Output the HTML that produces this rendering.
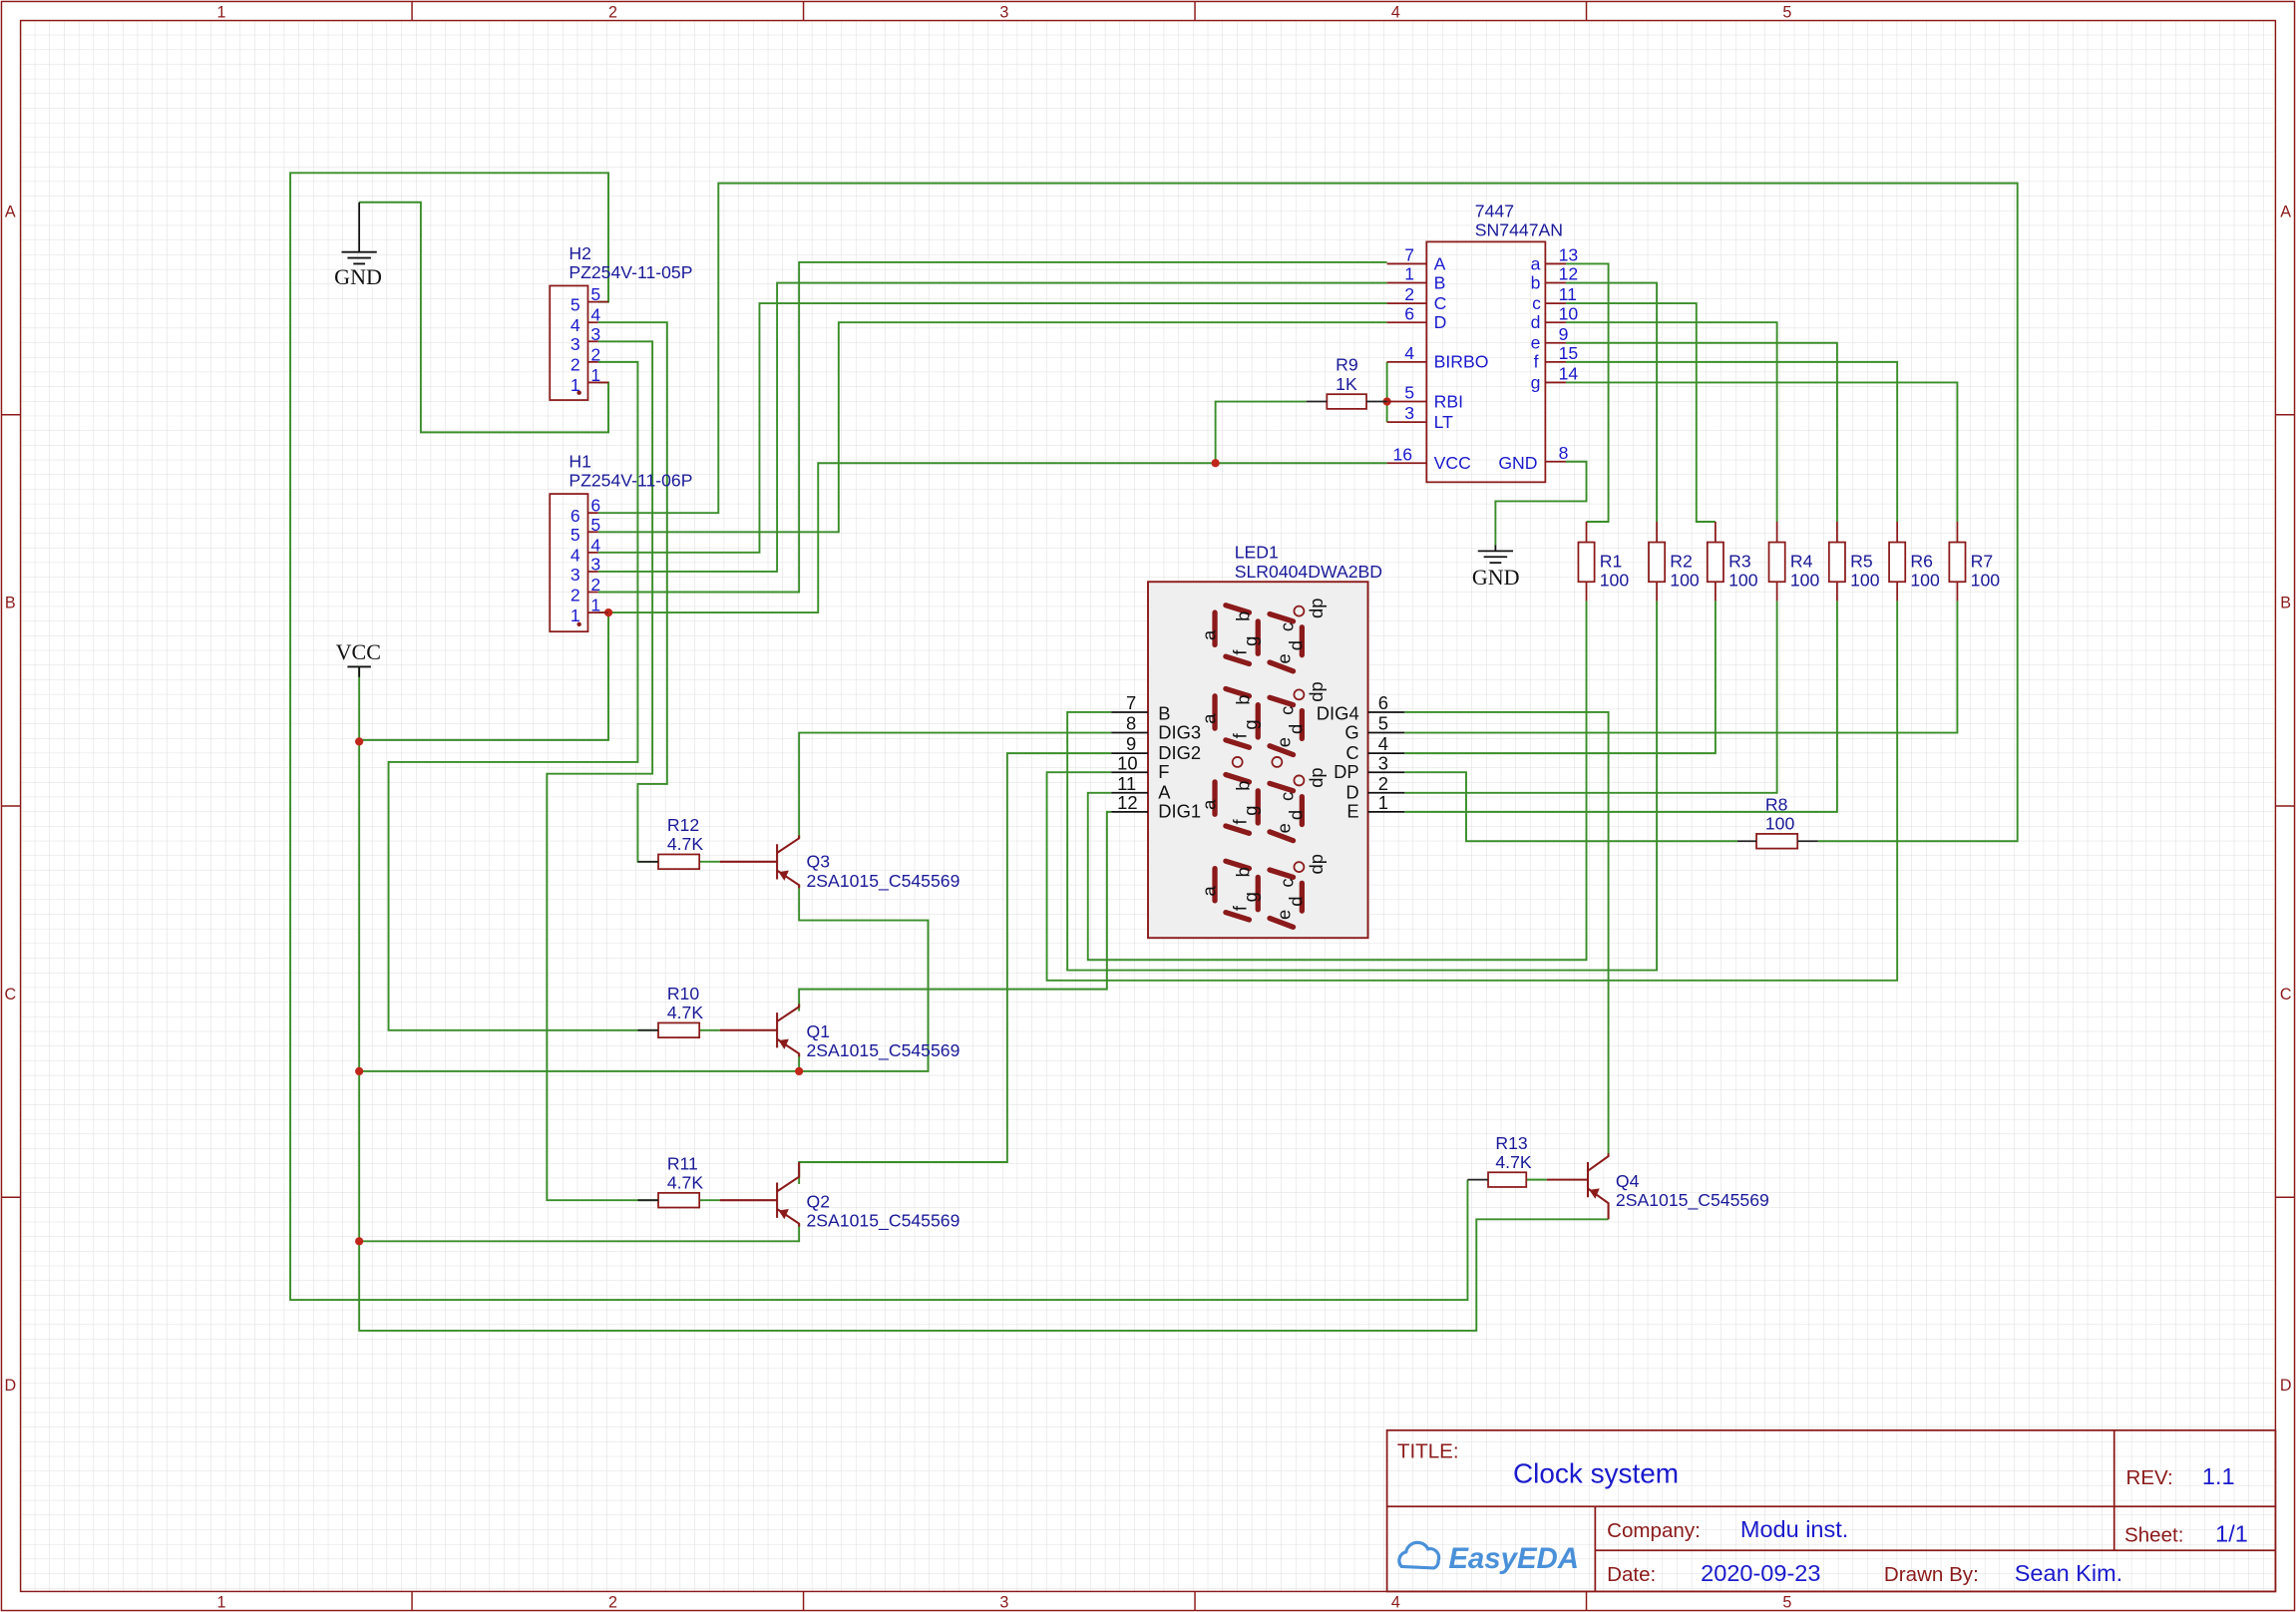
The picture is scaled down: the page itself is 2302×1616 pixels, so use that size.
<!DOCTYPE html>
<html><head><meta charset="utf-8"><style>
html,body{margin:0;padding:0;background:#fff}
svg{display:block}
text{font-family:"Liberation Sans",sans-serif}
</style></head><body>
<svg width="2302" height="1616" viewBox="0 0 1566 1100" preserveAspectRatio="none" xmlns="http://www.w3.org/2000/svg">
<defs>
<pattern id="g" width="10" height="10" patternUnits="userSpaceOnUse" x="4" y="4">
<path d="M10 0V10H0" fill="none" stroke="#dedede" stroke-width="0.7"/>
</pattern>
<g id="dig" fill="none" stroke="#8b1a1a" stroke-linecap="round">
<line x1="828.6" y1="418" x2="828.6" y2="440" stroke-width="3.6"/>
<line x1="836" y1="413" x2="852" y2="418" stroke-width="3.6"/>
<line x1="858" y1="424" x2="858" y2="446" stroke-width="3.6"/>
<line x1="836" y1="448" x2="852" y2="453" stroke-width="3.6"/>
<line x1="866" y1="419" x2="882" y2="424" stroke-width="3.6"/>
<line x1="888" y1="428" x2="888" y2="447" stroke-width="3.6"/>
<line x1="866" y1="452" x2="882" y2="458" stroke-width="3.6"/>
<circle cx="886" cy="417" r="3.4" stroke-width="1.2"/>
<g fill="#111" stroke="none" font-size="12.5">
<text transform="translate(829,437) rotate(-90)">a</text>
<text transform="translate(852,424) rotate(-90)">b</text>
<text transform="translate(850,447) rotate(-90)">f</text>
<text transform="translate(857,441) rotate(-90)">g</text>
<text transform="translate(882,431) rotate(-90)">c</text>
<text transform="translate(880,453) rotate(-90)">e</text>
<text transform="translate(888,444) rotate(-90)">d</text>
<text transform="translate(902,422) rotate(-90)">dp</text>
</g>
</g>
</defs>
<rect width="1566" height="1100" fill="#fff"/>
<rect x="14" y="14" width="1538" height="1072" fill="url(#g)"/>
<g stroke="#8b1a1a" fill="none" stroke-width="1">
<rect x="1" y="1" width="1564" height="1098"/>
<rect x="14" y="14" width="1538" height="1072"/>
<path d="M281 1V14M548 1V14M815 1V14M1082 1V14M281 1086V1099M548 1086V1099M815 1086V1099M1082 1086V1099M1 283H14M1 550H14M1 817H14M1552 283H1565M1552 550H1565M1552 817H1565"/>
</g>
<g fill="#8b1a1a" font-size="11" text-anchor="middle">
<text x="151" y="12">1</text><text x="418" y="12">2</text><text x="685" y="12">3</text><text x="952" y="12">4</text><text x="1219" y="12">5</text>
<text x="151" y="1097">1</text><text x="418" y="1097">2</text><text x="685" y="1097">3</text><text x="952" y="1097">4</text><text x="1219" y="1097">5</text>
<text x="7" y="148">A</text><text x="7" y="415">B</text><text x="7" y="682">C</text><text x="7" y="949">D</text>
<text x="1559" y="148">A</text><text x="1559" y="415">B</text><text x="1559" y="682">C</text><text x="1559" y="949">D</text>
</g>

<g stroke="#3a8e2a" stroke-width="1.3" fill="none">
<path d="M245 138H287V295H415V261H408"/>
<path d="M408 206H415V118H198V887H1001V805"/>
<path d="M408 220H455V535H435V588H449"/>
<path d="M408 233H445V528H373V819H449"/>
<path d="M408 247H435V520H265V703H449"/>
<path d="M408 350H490V125H1376V574H1240"/>
<path d="M408 363H572V220H946"/>
<path d="M408 377H518V207H946"/>
<path d="M408 390H530V193H946"/>
<path d="M408 404H545V179H946"/>
<path d="M408 418H558V316H946"/>
<path d="M415 418V505H245"/>
<path d="M245 455V908H1007V832H1097"/>
<path d="M829 316V274H891"/>
<path d="M946 247V288"/>
<path d="M1068 315H1082V342H1020V372"/>
<path d="M1068 180H1097V356H1082"/>
<path d="M1068 193H1130V356"/>
<path d="M1068 207H1157V356H1170"/>
<path d="M1068 220H1212V356"/>
<path d="M1068 234H1253V356"/>
<path d="M1068 247H1294V356"/>
<path d="M1068 261H1335V356"/>
<path d="M1082 410V655H742V541H758"/>
<path d="M1130 410V662H728V486H758"/>
<path d="M1170 410V514H958"/>
<path d="M1212 410V541H958"/>
<path d="M1253 410V554H958"/>
<path d="M1294 410V669H714V527H758"/>
<path d="M1335 410V500H958"/>
<path d="M758 500H545V572"/>
<path d="M758 514H687V793H545V808"/>
<path d="M758 554H755V675H545V690"/>
<path d="M958 486H1097V789"/>
<path d="M958 527H1000V574H1185"/>
<path d="M545 604V628H633V731H245"/>
<path d="M545 720V731"/>
<path d="M545 835V847H245"/>
<path d="M477 588H491M477 703H491M477 819H491M1041 805H1055"/>
</g>
<g fill="#c0261a">
<circle cx="415" cy="418" r="2.8"/><circle cx="245" cy="506" r="2.8"/><circle cx="245" cy="731" r="2.8"/>
<circle cx="545" cy="731" r="2.8"/><circle cx="245" cy="847" r="2.8"/><circle cx="829" cy="316" r="2.8"/>
<circle cx="946" cy="274" r="2.8"/>
</g>

<g stroke="#111" stroke-width="1.2" fill="none">
<path d="M245 138V172M233 172H257M237 176H253M241 180H249"/>
<path d="M237 455H253M245 455V462"/>
<path d="M1020 372V376M1008 376H1032M1012 380H1028M1016 384H1024"/>
</g>
<g font-size="15" fill="#111">
<text x="228" y="194" style="font-family:'Liberation Serif',serif">GND</text>
<text x="229" y="450" style="font-family:'Liberation Serif',serif">VCC</text>
<text x="1004" y="399" style="font-family:'Liberation Serif',serif">GND</text>
</g>

<g stroke="#8b1a1a" fill="none" stroke-width="1.2">
<rect x="375" y="195" width="26" height="78"/>
<rect x="375" y="337" width="26" height="94"/>
<path d="M401 206H415M401 220H408M401 233H408M401 247H408M401 261H415"/>
<path d="M401 350H408M401 363H408M401 377H408M401 390H408M401 404H408M401 418H415"/>
</g>
<circle cx="395" cy="268" r="1.5" fill="#8b1a1a"/><circle cx="395" cy="426" r="1.5" fill="#8b1a1a"/>
<g fill="#1a1acc" font-size="12">
<text x="389" y="212">5</text><text x="389" y="226">4</text><text x="389" y="239">3</text><text x="389" y="253">2</text><text x="389" y="267">1</text>
<text x="403" y="205">5</text><text x="403" y="219">4</text><text x="403" y="232">3</text><text x="403" y="246">2</text><text x="403" y="260">1</text>
<text x="389" y="356">6</text><text x="389" y="369">5</text><text x="389" y="383">4</text><text x="389" y="396">3</text><text x="389" y="410">2</text><text x="389" y="424">1</text>
<text x="403" y="349">6</text><text x="403" y="362">5</text><text x="403" y="376">4</text><text x="403" y="389">3</text><text x="403" y="403">2</text><text x="403" y="417">1</text>
</g>
<g fill="#1a1a99" font-size="12">
<text x="388" y="177">H2</text><text x="388" y="190">PZ254V-11-05P</text>
<text x="388" y="319">H1</text><text x="388" y="332">PZ254V-11-06P</text>
</g>

<g stroke="#8b1a1a" fill="none" stroke-width="1.2">
<rect x="973" y="165" width="81" height="164"/>
<path d="M946 180H973M946 193H973M946 207H973M946 220H973M946 247H973M946 274H973M946 288H973M946 316H973"/>
<path d="M1054 180H1068M1054 193H1068M1054 207H1068M1054 220H1068M1054 234H1068M1054 247H1068M1054 261H1068M1054 315H1068"/>
</g>
<g fill="#1a1acc" font-size="12">
<text x="958" y="178">7</text><text x="958" y="191">1</text><text x="958" y="205">2</text><text x="958" y="218">6</text>
<text x="958" y="245">4</text><text x="958" y="272">5</text><text x="958" y="286">3</text><text x="950" y="314">16</text>
<text x="978" y="184">A</text><text x="978" y="197">B</text><text x="978" y="211">C</text><text x="978" y="224">D</text>
<text x="978" y="251">BIRBO</text><text x="978" y="278">RBI</text><text x="978" y="292">LT</text><text x="978" y="320">VCC</text><text x="1022" y="320">GND</text>
<text x="1044" y="184">a</text><text x="1044" y="197">b</text><text x="1045" y="211">c</text><text x="1044" y="224">d</text><text x="1044" y="238">e</text><text x="1046" y="251">f</text><text x="1044" y="265">g</text>
<text x="1063" y="178">13</text><text x="1063" y="191">12</text><text x="1063" y="205">11</text><text x="1063" y="218">10</text><text x="1063" y="232">9</text><text x="1063" y="245">15</text><text x="1063" y="259">14</text><text x="1063" y="313">8</text>
</g>
<g fill="#1a1a99" font-size="12">
<text x="1006" y="148">7447</text><text x="1006" y="161">SN7447AN</text>
<text x="911" y="253">R9</text><text x="911" y="266">1K</text>
<text x="842" y="381">LED1</text><text x="842" y="394">SLR0404DWA2BD</text>
</g>
<rect x="905" y="269" width="27" height="10" stroke="#8b1a1a" fill="none" stroke-width="1.2"/>
<path d="M891 274H905M932 274H946" stroke="#222" stroke-width="1.2"/>

<g stroke="#8b1a1a" fill="none" stroke-width="1.2">
<path d="M1082 356V410M1130 356V410M1170 356V410M1212 356V410M1253 356V410M1294 356V410M1335 356V410"/>
</g>
<g stroke="#8b1a1a" fill="#fff" stroke-width="1.2">
<rect x="1076.5" y="370" width="11" height="27"/><rect x="1124.5" y="370" width="11" height="27"/>
<rect x="1164.5" y="370" width="11" height="27"/><rect x="1206.5" y="370" width="11" height="27"/>
<rect x="1247.5" y="370" width="11" height="27"/><rect x="1288.5" y="370" width="11" height="27"/>
<rect x="1329.5" y="370" width="11" height="27"/>
</g>
<g fill="#1a1a99" font-size="12">
<text x="1091" y="387">R1</text><text x="1091" y="400">100</text>
<text x="1139" y="387">R2</text><text x="1139" y="400">100</text>
<text x="1179" y="387">R3</text><text x="1179" y="400">100</text>
<text x="1221" y="387">R4</text><text x="1221" y="400">100</text>
<text x="1262" y="387">R5</text><text x="1262" y="400">100</text>
<text x="1303" y="387">R6</text><text x="1303" y="400">100</text>
<text x="1344" y="387">R7</text><text x="1344" y="400">100</text>
<text x="1204" y="553">R8</text><text x="1204" y="566">100</text>
<text x="455" y="567">R12</text><text x="455" y="580">4.7K</text>
<text x="455" y="682">R10</text><text x="455" y="695">4.7K</text>
<text x="455" y="798">R11</text><text x="455" y="811">4.7K</text>
<text x="1020" y="784">R13</text><text x="1020" y="797">4.7K</text>
<text x="550" y="592">Q3</text><text x="550" y="605">2SA1015_C545569</text>
<text x="550" y="708">Q1</text><text x="550" y="721">2SA1015_C545569</text>
<text x="550" y="824">Q2</text><text x="550" y="837">2SA1015_C545569</text>
<text x="1102" y="810">Q4</text><text x="1102" y="823">2SA1015_C545569</text>
</g>
<g stroke="#8b1a1a" fill="#fff" stroke-width="1.2">
<rect x="1198" y="569" width="28" height="10"/>
<rect x="449" y="583" width="28" height="10"/>
<rect x="449" y="698" width="28" height="10"/>
<rect x="449" y="814" width="28" height="10"/>
<rect x="1015" y="800" width="26" height="10"/>
</g>
<path d="M1185 574H1198M1226 574H1240M435 588H449M435 703H449M435 819H449M1001 805H1015" stroke="#222" stroke-width="1.2"/>

<g stroke="#8b1a1a" fill="none" stroke-width="1.4">
<path d="M491 588H530M530 576V600M530 582L545 572V570M530 594L545 604V606"/>
<path d="M491 703H530M530 691V715M530 697L545 687V685M530 709L545 719V721"/>
<path d="M491 819H530M530 807V831M530 813L545 803V793M530 825L545 835V837"/>
<path d="M1055 805H1083M1083 793V817M1083 799L1097 789V787M1083 811L1097 821V832"/>
</g>
<g fill="#8b1a1a">
<polygon points="531,595 538,594 535,601"/>
<polygon points="531,710 538,709 535,716"/>
<polygon points="531,826 538,825 535,832"/>
<polygon points="1084,812 1091,811 1088,818"/>
</g>

<rect x="783" y="397" width="150" height="243" fill="#efefef" stroke="#8b1a1a" stroke-width="1.3"/>
<path d="M758 486H783M758 500H783M758 514H783M758 527H783M758 541H783M758 554H783M933 486H958M933 500H958M933 514H958M933 527H958M933 541H958M933 554H958" stroke="#111" stroke-width="1.2"/>
<use href="#dig"/>
<use href="#dig" transform="translate(0,57)"/>
<use href="#dig" transform="translate(0,115.6)"/>
<use href="#dig" transform="translate(0,174.6)"/>
<circle cx="844" cy="520" r="3.4" fill="none" stroke="#8b1a1a" stroke-width="1.2"/>
<circle cx="871" cy="520" r="3.4" fill="none" stroke="#8b1a1a" stroke-width="1.2"/>
<g fill="#111" font-size="12.5">
<text x="768" y="484">7</text><text x="768" y="498">8</text><text x="768" y="512">9</text><text x="762" y="525">10</text><text x="762" y="539">11</text><text x="762" y="552">12</text>
<text x="790" y="491">B</text><text x="790" y="504">DIG3</text><text x="790" y="518">DIG2</text><text x="790" y="531">F</text><text x="790" y="545">A</text><text x="790" y="558">DIG1</text>
<text x="927" y="491" text-anchor="end">DIG4</text><text x="927" y="504" text-anchor="end">G</text><text x="927" y="518" text-anchor="end">C</text><text x="927" y="531" text-anchor="end">DP</text><text x="927" y="545" text-anchor="end">D</text><text x="927" y="558" text-anchor="end">E</text>
<text x="940" y="484">6</text><text x="940" y="498">5</text><text x="940" y="512">4</text><text x="940" y="525">3</text><text x="940" y="539">2</text><text x="940" y="552">1</text>
</g>

<g stroke="#8b1a1a" fill="none" stroke-width="1.2">
<rect x="946" y="976" width="606" height="110"/>
<path d="M946 1028H1552M1088 1058H1552M1088 1028V1086M1442 976V1058"/>
</g>
<g fill="#8b1a1a" font-size="14">
<text x="953" y="995">TITLE:</text>
<text x="1450" y="1013">REV:</text>
<text x="1096" y="1049">Company:</text>
<text x="1449" y="1052">Sheet:</text>
<text x="1096" y="1079">Date:</text>
<text x="1285" y="1079">Drawn By:</text>
</g>
<g fill="#1a1acc" font-size="16">
<text x="1032" y="1012" font-size="19">Clock system</text>
<text x="1502" y="1013">1.1</text>
<text x="1187" y="1049">Modu inst.</text>
<text x="1511" y="1052">1/1</text>
<text x="1160" y="1079">2020-09-23</text>
<text x="1374" y="1079">Sean Kim.</text>
</g>
<path d="M956 1069a6 6 0 0 1 3-10a8 8 0 0 1 15-2a6 6 0 0 1 7 8a5 5 0 0 1-3 5z" fill="none" stroke="#4a90d9" stroke-width="2.2"/>
<text x="988" y="1070" fill="#4a90d9" font-size="20" font-weight="bold" font-style="italic">EasyEDA</text>
</svg>
</body></html>
